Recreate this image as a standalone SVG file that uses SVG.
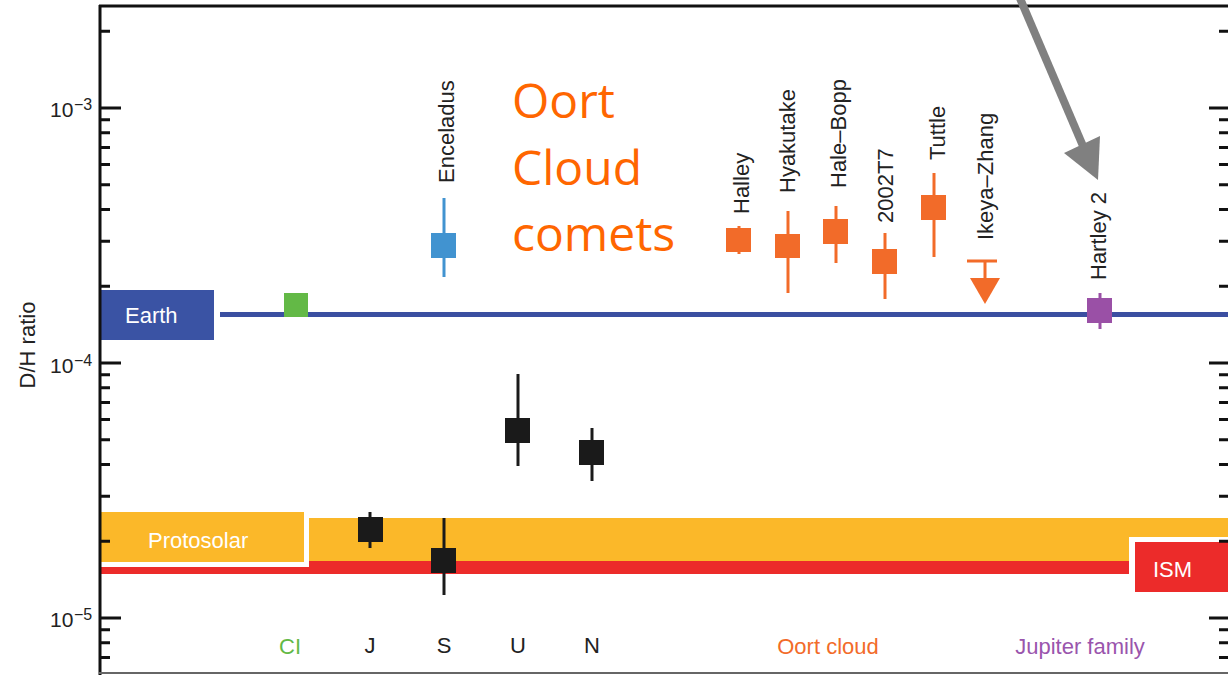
<svg xmlns="http://www.w3.org/2000/svg" width="1228" height="675" viewBox="0 0 1228 675">
<style>
.lbl{font-family:"Liberation Sans",Arial,sans-serif;font-size:22px;fill:#222}
.wlbl{font-family:"Liberation Sans",Arial,sans-serif;font-size:22px;fill:#fff}
.tick{font-family:"Liberation Sans",Arial,sans-serif;font-size:21px;fill:#222}
.sup{font-family:"Liberation Sans",Arial,sans-serif;font-size:16px;fill:#222}
.big{font-family:"Open Sans",sans-serif;font-size:48px;fill:#ff6600}
.ax{stroke:#111;stroke-width:3;fill:none}
.eb{stroke-width:3;fill:none}
</style>
<rect width="1228" height="675" fill="#fff"/>

<!-- bands -->
<g id="bands">
  <rect x="99" y="518" width="1129" height="43" fill="#fbb829"/>
  <rect x="99" y="561" width="1129" height="13" fill="#ec2b2a"/>
</g>

<g id="earth-line">
  <rect x="220" y="312" width="1008" height="5" fill="#3b4fa1"/>
</g>

<g id="protosolar">
  <rect x="95" y="507" width="214" height="60" fill="#fff"/>
  <rect x="101" y="512" width="203" height="50" fill="#fbb829"/>
  <text class="wlbl" x="148" y="548">Protosolar</text>
</g>

<g id="ism">
  <rect x="1129" y="537" width="99" height="60" fill="#fff"/>
  <rect x="1135" y="542" width="93" height="50" fill="#ec2b2a"/>
  <text class="wlbl" x="1153" y="577">ISM</text>
</g>

<g id="earth">
  <rect x="101" y="290" width="113" height="50" fill="#3a53a4"/>
  <text class="wlbl" x="125" y="323">Earth</text>
</g>

<!-- axes -->
<g id="axes">
  <line x1="99" y1="6" x2="1228" y2="6" class="ax"/>
  <line x1="100" y1="5" x2="100" y2="675" class="ax"/>
  <line x1="99" y1="673" x2="1228" y2="673" stroke="#666" stroke-width="2"/>
  <path class="ax" d="M99 108H121M99 363H121M99 618H121
    M99 31.2H110
    M99 286.2H110M99 241.3H110M99 209.5H110M99 184.8H110M99 164.6H110M99 147.5H110M99 132.7H110M99 119.7H110
    M99 541.2H110M99 496.3H110M99 464.5H110M99 439.8H110M99 419.6H110M99 402.5H110M99 387.7H110M99 374.7H110
    M99 629.7H110M99 642.7H110M99 657.5H110"/>
  <path class="ax" d="M1209 108H1228M1209 363H1228M1209 618H1228
    M1219 31.2H1228
    M1219 286.2H1228M1219 241.3H1228M1219 209.5H1228M1219 184.8H1228M1219 164.6H1228M1219 147.5H1228M1219 132.7H1228M1219 119.7H1228
    M1219 541.2H1228M1219 496.3H1228M1219 464.5H1228M1219 439.8H1228M1219 419.6H1228M1219 402.5H1228M1219 387.7H1228M1219 374.7H1228
    M1219 629.7H1228M1219 642.7H1228M1219 657.5H1228"/>
  <text class="tick" x="50" y="117">10</text><text class="sup" x="74" y="110">−3</text>
  <text class="tick" x="50" y="373">10</text><text class="sup" x="74" y="366">−4</text>
  <text class="tick" x="50" y="627">10</text><text class="sup" x="74" y="620">−5</text>
  <text class="lbl" transform="translate(35,345) rotate(-90)" text-anchor="middle">D/H ratio</text>
</g>

<!-- data points -->
<g id="ci"><rect x="284" y="293" width="24" height="24" fill="#63b946"/></g>

<g id="enceladus">
  <line x1="444" y1="198" x2="444" y2="277" stroke="#4193d0" class="eb"/>
  <rect x="431" y="233" width="25" height="25" fill="#4193d0"/>
  <text class="lbl" transform="translate(454,183) rotate(-90)">Enceladus</text>
</g>

<g id="jupiter">
  <line x1="370" y1="512" x2="370" y2="548" stroke="#1a1a1a" class="eb"/>
  <rect x="358" y="517" width="25" height="25" fill="#1a1a1a"/>
</g>
<g id="saturn">
  <line x1="444" y1="518" x2="444" y2="595" stroke="#1a1a1a" class="eb"/>
  <rect x="431" y="548" width="25" height="25" fill="#1a1a1a"/>
</g>
<g id="uranus">
  <line x1="518" y1="374" x2="518" y2="466" stroke="#1a1a1a" class="eb"/>
  <rect x="505" y="418" width="25" height="25" fill="#1a1a1a"/>
</g>
<g id="neptune">
  <line x1="592" y1="428" x2="592" y2="481" stroke="#1a1a1a" class="eb"/>
  <rect x="579" y="440" width="25" height="25" fill="#1a1a1a"/>
</g>

<g id="halley">
  <line x1="739" y1="226" x2="739" y2="254" stroke="#f26b29" class="eb"/>
  <rect x="726" y="228" width="25" height="24" fill="#f26b29"/>
  <text class="lbl" transform="translate(749,214) rotate(-90)">Halley</text>
</g>
<g id="hyakutake">
  <line x1="788" y1="211" x2="788" y2="293" stroke="#f26b29" class="eb"/>
  <rect x="775" y="234" width="25" height="24" fill="#f26b29"/>
  <text class="lbl" transform="translate(795,193) rotate(-90)">Hyakutake</text>
</g>
<g id="hale-bopp">
  <line x1="836" y1="206" x2="836" y2="263" stroke="#f26b29" class="eb"/>
  <rect x="823" y="219" width="25" height="25" fill="#f26b29"/>
  <text class="lbl" transform="translate(846,188) rotate(-90)">Hale–Bopp</text>
</g>
<g id="t7">
  <line x1="885" y1="233" x2="885" y2="299" stroke="#f26b29" class="eb"/>
  <rect x="872" y="249" width="25" height="25" fill="#f26b29"/>
  <text class="lbl" transform="translate(893,223) rotate(-90)">2002T7</text>
</g>
<g id="tuttle">
  <line x1="934" y1="173" x2="934" y2="257" stroke="#f26b29" class="eb"/>
  <rect x="921" y="195" width="25" height="25" fill="#f26b29"/>
  <text class="lbl" transform="translate(945,160) rotate(-90)">Tuttle</text>
</g>
<g id="ikeya-zhang">
  <path d="M967 261H997M985 261V280" stroke="#f26b29" class="eb"/>
  <polygon points="970,278 1000,278 985,304" fill="#f26b29"/>
  <text class="lbl" transform="translate(993,240) rotate(-90)">Ikeya–Zhang</text>
</g>
<g id="hartley2">
  <line x1="1100" y1="293" x2="1100" y2="329" stroke="#9a50a6" class="eb"/>
  <rect x="1087" y="298" width="25" height="25" fill="#9a50a6"/>
  <text class="lbl" transform="translate(1106,280) rotate(-90)">Hartley 2</text>
</g>

<g id="oort-title">
  <text class="big" x="512" y="118">Oort</text>
  <text class="big" x="512" y="185">Cloud</text>
  <text class="big" x="512" y="251">comets</text>
</g>

<g id="categories" font-family="Liberation Sans, Arial, sans-serif" font-size="22" text-anchor="middle">
  <text x="290" y="654" fill="#63b946">CI</text>
  <text x="370" y="653" fill="#222">J</text>
  <text x="444" y="653" fill="#222">S</text>
  <text x="518" y="653" fill="#222">U</text>
  <text x="592" y="653" fill="#222">N</text>
  <text x="828" y="654" fill="#f26b29">Oort cloud</text>
  <text x="1080" y="654" fill="#9a55ad">Jupiter family</text>
</g>

<g id="connectors">
  <line x1="1019" y1="-4" x2="1083" y2="146" stroke="#808080" stroke-width="8"/>
  <polygon points="1064,153 1100,136 1098,180" fill="#808080"/>
</g>
</svg>
